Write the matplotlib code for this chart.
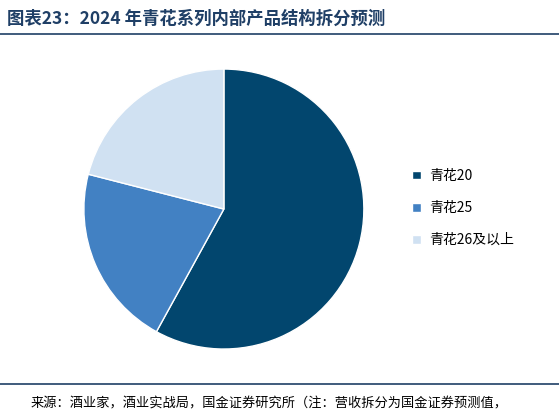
import matplotlib
matplotlib.use("Agg")
import matplotlib.pyplot as plt
from matplotlib.lines import Line2D

plt.rcParams['font.family'] = ['Noto Sans CJK SC', 'DejaVu Sans']

labels = ['青花20', '青花25', '青花26及以上']
values = [58, 21, 21]
colors = ['#02466e', '#4281c3', '#d0e1f2']

fig = plt.figure(figsize=(5.59, 4.16), dpi=100)
ax = fig.add_axes([0.150, 0.161, 0.501, 0.673])
wedges, _ = ax.pie(values, colors=colors, startangle=90, counterclock=False,
                   radius=1.0, wedgeprops=dict(edgecolor='white', linewidth=1))
ax.set_xlim(-1, 1); ax.set_ylim(-1, 1)
ax.set_aspect('equal')
fig.legend(wedges, labels, loc='center left', bbox_to_anchor=(0.715, 0.5),
           frameon=False, fontsize=10, handlelength=0.6, handleheight=0.6,
           labelspacing=1.3, handletextpad=0.6)

fig.text(0.012, 0.955, '图表23：2024 年青花系列内部产品结构拆分预测', fontsize=12.5,
         fontweight='bold', style='italic', color='#1f3f66', va='center')
fig.add_artist(Line2D([0.0, 1.0], [0.918, 0.918], color='#1f3f66', lw=1.2))
fig.add_artist(Line2D([0.0, 1.0], [0.078, 0.078], color='#1f3f66', lw=1.2))
fig.text(0.055, 0.03, '来源：酒业家，酒业实战局，国金证券研究所（注：营收拆分为国金证券预测值，',
         fontsize=9.5, color='black', va='center')

fig.savefig('out.png', dpi=100)
